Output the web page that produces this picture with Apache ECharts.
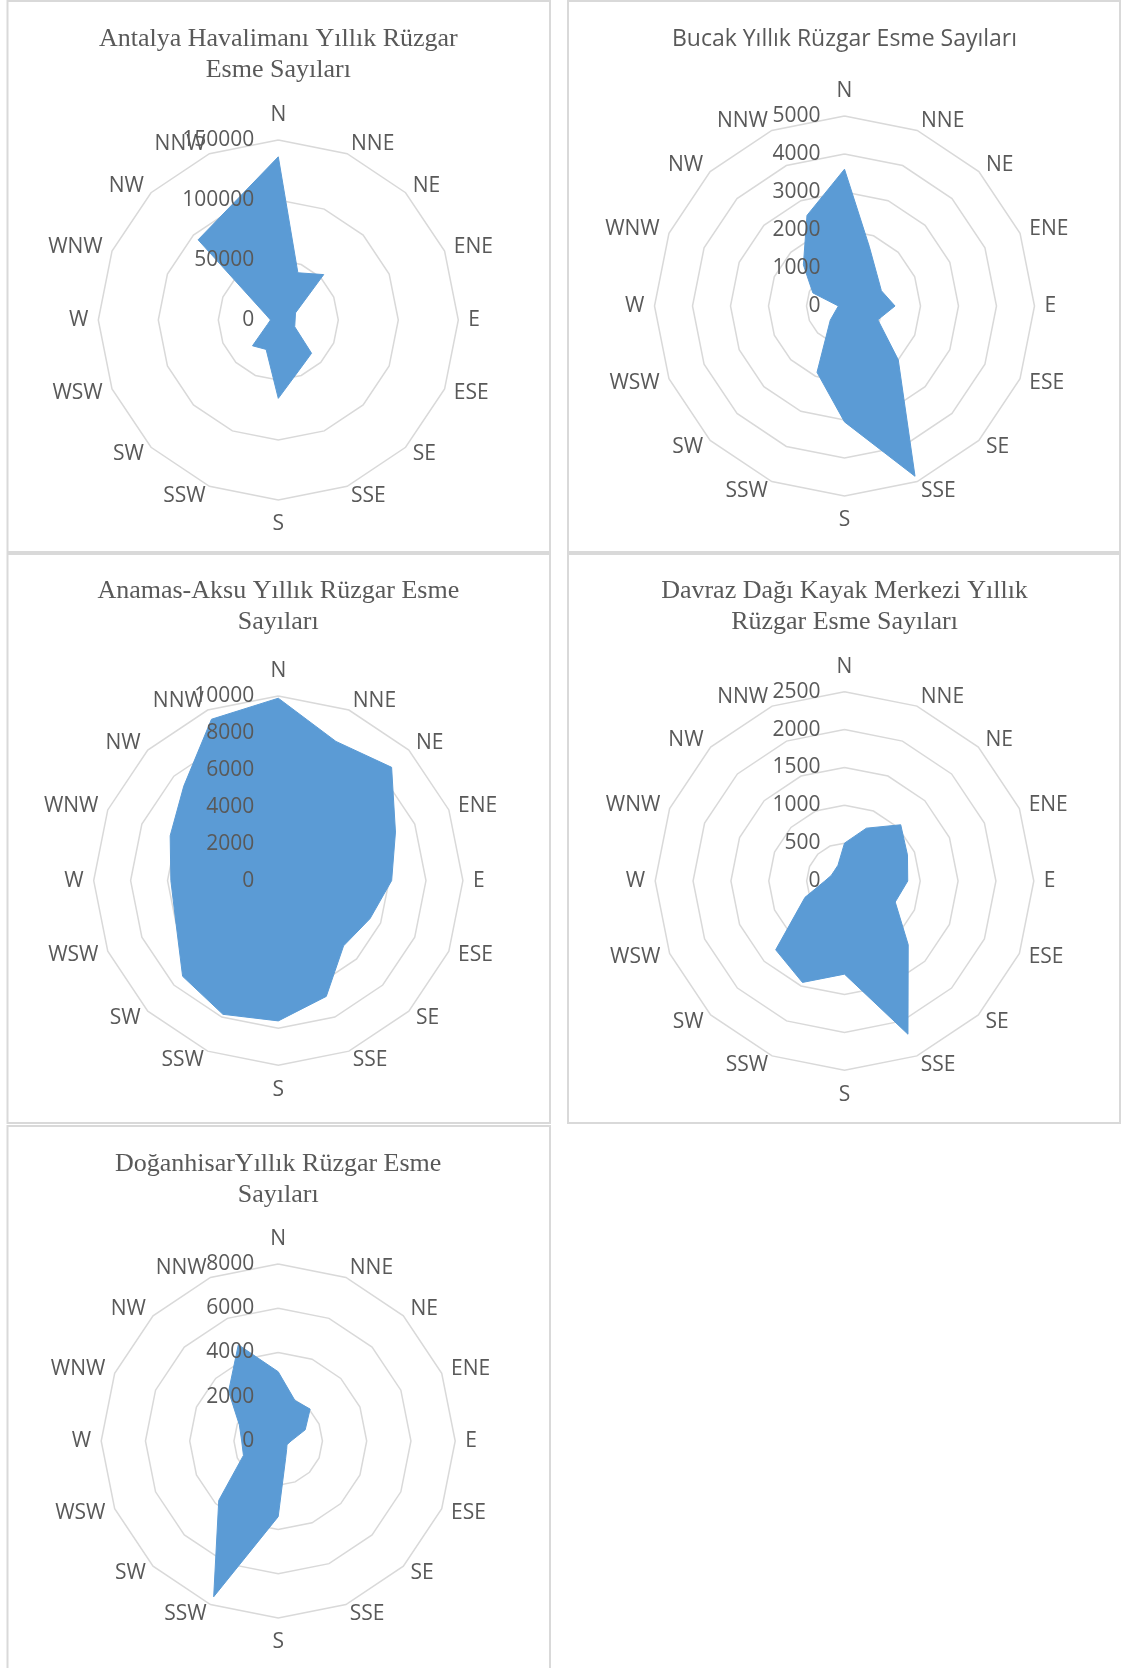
<!DOCTYPE html>
<html>
<head>
<meta charset="utf-8">
<script src="https://cdn.jsdelivr.net/npm/echarts@6/dist/echarts.min.js"></script>
<style>
  html, body { margin: 0; padding: 0; background: #ffffff; }
  #chart { width: 1122px; height: 1668px; }
</style>
</head>
<body>
<div id="chart"></div>
<script>
// Wind directions, listed clockwise from north
const directions = ['N', 'NNE', 'NE', 'ENE', 'E', 'ESE', 'SE', 'SSE', 'S', 'SSW', 'SW', 'WSW', 'W', 'WNW', 'NW', 'NNW'];

// Annual wind occurrence counts per direction
const antalyaCounts   = [136000, 42600, 53500, 15500, 14000, 14800, 39200, 45300, 65300, 26500, 30400, 9800, 6500, 11000, 94500, 103000];
const bucakCounts     = [3600, 1700, 1200, 1050, 1330, 950, 2000, 4850, 3050, 1890, 530, 230, 160, 900, 1530, 2580];
const anamasCounts    = [9880, 8160, 8680, 6870, 6140, 5380, 5000, 6790, 7600, 7840, 7330, 6000, 5820, 6340, 7240, 9460];
const davrazCounts    = [500, 755, 1050, 900, 835, 725, 1190, 2190, 1230, 1450, 1285, 565, 260, 190, 190, 225];
const doganhisarCounts = [3130, 1980, 2040, 1320, 580, 430, 540, 870, 3420, 7620, 3800, 1700, 1650, 1900, 3170, 4710];

// Chart titles
const titles = [
  'Antalya Havalimanı Yıllık Rüzgar\nEsme Sayıları',
  'Bucak Yıllık Rüzgar Esme Sayıları',
  'Anamas-Aksu Yıllık Rüzgar Esme\nSayıları',
  'Davraz Dağı Kayak Merkezi Yıllık\nRüzgar Esme Sayıları',
  'DoğanhisarYıllık Rüzgar Esme\nSayıları'
];

// Radial scale of each chart: maximum and number of rings
const axisMax   = [150000, 5000, 10000, 2500, 8000];
const ringCount = [3, 5, 5, 5, 4];

const seriesValues = [antalyaCounts, bucakCounts, anamasCounts, davrazCounts, doganhisarCounts];

// Panel layout (frame, radar centre and radius, title style)
const panels = [
  { frame: [7.5, 1, 542.5, 551],    cx: 278.3, cy: 320,   r: 180,   serif: true,  titleTop: 23 },
  { frame: [568, 1, 552, 551],      cx: 844.5, cy: 306,   r: 190,   serif: false, titleTop: 23 },
  { frame: [7.5, 554, 542.5, 569],  cx: 278.3, cy: 880.6, r: 184.6, serif: true,  titleTop: 22 },
  { frame: [568, 554, 552, 569],    cx: 844.5, cy: 881,   r: 189.3, serif: true,  titleTop: 22 },
  { frame: [7.5, 1126, 542.5, 560], cx: 278.2, cy: 1441,  r: 177,   serif: true,  titleTop: 23 }
];

const TEXT = '#595959';
const GRID = '#d9d9d9';
const FILL = '#5b9bd5';
const SANS = '"Open Sans", "Noto Sans", sans-serif';
const SERIF = '"Liberation Serif", "DejaVu Serif", serif';

// ECharts radar places indicators counter-clockwise, so feed them N, NNW, NW, ...
const order = directions.map((_, i) => (16 - i) % 16);

const radars = [];
const series = [];
const titleOpts = [];
const frames = [];

panels.forEach((p, k) => {
  const indicator = order.map(j => ({ name: directions[j], min: 0, max: axisMax[k] }));

  // Lower radar: the ring polygons, drawn beneath the filled area
  radars.push({
    center: [p.cx, p.cy],
    radius: p.r,
    startAngle: 90,
    shape: 'polygon',
    splitNumber: ringCount[k],
    indicator: indicator,
    axisName: { show: false },
    axisLine: { show: false },
    axisTick: { show: false },
    axisLabel: { show: false },
    splitLine: { lineStyle: { color: GRID, width: 1.5 } },
    splitArea: { show: false },
    z: 0
  });

  // Upper radar: direction names and the value labels on the north axis
  radars.push({
    center: [p.cx, p.cy],
    radius: p.r,
    startAngle: 90,
    shape: 'polygon',
    splitNumber: ringCount[k],
    indicator: indicator.map((ind, i) => i === 0 ? Object.assign({}, ind, {
      axisLabel: {
        show: true,
        color: TEXT,
        fontSize: 21,
        fontFamily: SANS,
        margin: 24,
        formatter: v => String(v)
      }
    }) : ind),
    axisName: { show: true, color: TEXT, fontSize: 21, fontFamily: SANS, padding: [4, 0, 4, 0] },
    axisNameGap: 10,
    axisLine: { show: false },
    axisTick: { show: false },
    axisLabel: { show: false },
    splitLine: { show: false },
    splitArea: { show: false },
    z: 5
  });

  series.push({
    type: 'radar',
    radarIndex: 2 * k,
    symbol: 'none',
    silent: true,
    lineStyle: { color: FILL, width: 1 },
    areaStyle: { color: FILL, opacity: 1 },
    data: [{ value: order.map(j => seriesValues[k][j]) }],
    z: 2
  });

  titleOpts.push({
    text: titles[k],
    left: p.cx,
    top: p.frame[1] + p.titleTop,
    textAlign: 'center',
    padding: 0,
    textStyle: {
      color: TEXT,
      fontWeight: 'normal',
      fontFamily: p.serif ? SERIF : SANS,
      fontSize: p.serif ? 26 : 23,
      lineHeight: 31
    }
  });

  frames.push({
    type: 'rect',
    shape: { x: p.frame[0], y: p.frame[1], width: p.frame[2], height: p.frame[3] },
    style: { fill: 'none', stroke: GRID, lineWidth: 2 },
    silent: true,
    z: -10
  });
});

const chart = echarts.init(document.getElementById('chart'), null, { renderer: 'canvas' });
chart.setOption({
  backgroundColor: '#ffffff',
  animation: false,
  title: titleOpts,
  radar: radars,
  series: series,
  graphic: frames
});
</script>
</body>
</html>
